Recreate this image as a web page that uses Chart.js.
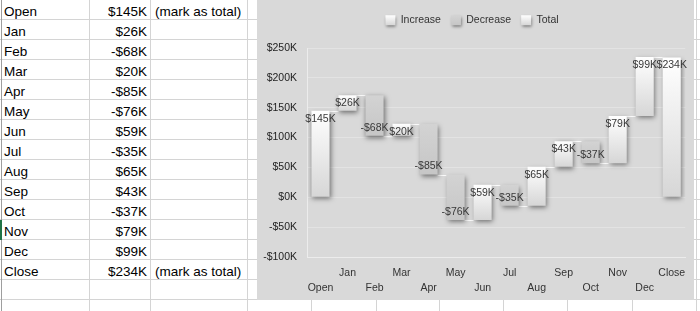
<!DOCTYPE html>
<html>
<head>
<meta charset="utf-8">
<script src="https://cdn.jsdelivr.net/npm/chart.js@4.4.0/dist/chart.umd.min.js"></script>
<style>
  html, body { margin: 0; padding: 0; width: 700px; height: 311px; overflow: hidden; background: #fff; }
  #sheet { position: absolute; left: 0; top: 0; width: 700px; height: 311px; overflow: hidden;
           font: 13.5px "Liberation Sans", Arial, sans-serif; color: #000; }
  .cell { position: absolute; height: 20px; box-sizing: border-box; border-right: 1px solid #d4d4d4;
          border-bottom: 1px solid #d4d4d4; line-height: 24px; white-space: nowrap; overflow: hidden; padding: 0 3px 0 4px; }
  .num { text-align: right; }
  #edge { position: absolute; left: 1px; top: 0; width: 1px; height: 311px; background: #9e9e9e; }
  #sel { position: absolute; left: 0; top: 220px; width: 2px; height: 20px; background: #217346; }
  #box { position: absolute; left: 257px; top: 0; width: 437px; height: 300px; background: #d9d9d9; }
</style>
</head>
<body>
<div id="sheet"></div>
<div id="edge"></div>
<div id="sel"></div>
<div id="box"><canvas id="chart"></canvas></div>
<script>
const categories = ['Open', 'Jan', 'Feb', 'Mar', 'Apr', 'May', 'Jun', 'Jul', 'Aug', 'Sep', 'Oct', 'Nov', 'Dec', 'Close'];
const amounts = [145, 26, -68, 20, -85, -76, 59, -35, 65, 43, -37, 79, 99, 234];
const isTotal = [true, false, false, false, false, false, false, false, false, false, false, false, false, true];
const totalNote = '(mark as total)';
const legendNames = ['Increase', 'Decrease', 'Total'];
const yMin = -100, yMax = 250, yStep = 50;

const fmt = v => (v < 0 ? '-$' + (-v) : '$' + v) + 'K';

// spreadsheet grid
const colEdges = [0, 90, 151, 248, 312, 377, 440, 504, 568, 633, 697, 761];
const sheet = document.getElementById('sheet');
for (let r = 0; r < 16; r++) {
    for (let c = 0; c < colEdges.length - 1; c++) {
        const d = document.createElement('div');
        d.className = 'cell';
        d.style.left = colEdges[c] + 'px';
        d.style.top = (r * 20) + 'px';
        d.style.width = (colEdges[c + 1] - colEdges[c]) + 'px';
        if (r < categories.length) {
            if (c === 0) d.textContent = categories[r];
            if (c === 1) { d.textContent = fmt(amounts[r]); d.classList.add('num'); }
            if (c === 2 && isTotal[r]) d.textContent = totalNote;
        }
        sheet.appendChild(d);
    }
}

// waterfall ranges
const starts = [], ends = [];
let run = 0;
amounts.forEach((v, i) => {
    if (isTotal[i]) { starts.push(0); ends.push(v); run = v; }
    else { starts.push(run); run += v; ends.push(run); }
});
const kind = amounts.map((v, i) => isTotal[i] ? 2 : (v >= 0 ? 0 : 1));
const rangesFor = k => categories.map((_, i) => kind[i] === k ? [starts[i], ends[i]] : null);

const fills = [['#ffffff', '#d6d6d6'], ['#d3d3d3', '#c6c6c6'], ['#ffffff', '#d6d6d6']];

function grad(k) {
    return c => {
        const ch = c.chart;
        if (!ch.chartArea || !c.raw) return fills[k][0];
        const y = ch.scales.y;
        const g = ch.ctx.createLinearGradient(0, y.getPixelForValue(Math.max(...c.raw)), 0, y.getPixelForValue(Math.min(...c.raw)));
        g.addColorStop(0, fills[k][0]);
        g.addColorStop(1, fills[k][1]);
        return g;
    };
}

function barFor(chart, i) {
    return chart.getDatasetMeta(kind[i]).data[i];
}

const waterfall = {
    id: 'waterfall',
    afterInit(chart) {
        const lg = chart.legend;
        const fit = lg.fit.bind(lg);
        lg.fit = function () { fit(); this.height = 43; };
    },
    beforeDatasetsDraw(chart) {
        const ctx = chart.ctx, y = chart.scales.y;
        ctx.save();
        ctx.strokeStyle = 'rgba(255,255,255,0.85)';
        ctx.lineWidth = 1;
        for (let i = 0; i < categories.length - 1; i++) {
            const a = barFor(chart, i), b = barFor(chart, i + 1);
            const py = Math.round(y.getPixelForValue(ends[i])) + 0.5;
            ctx.beginPath();
            ctx.moveTo(a.x + a.width / 2, py);
            ctx.lineTo(b.x - b.width / 2, py);
            ctx.stroke();
        }
        ctx.shadowColor = 'rgba(0,0,0,0.5)';
        ctx.shadowBlur = 5;
        ctx.shadowOffsetX = 1;
        ctx.shadowOffsetY = 2;
    },
    afterDatasetsDraw(chart) {
        const ctx = chart.ctx, y = chart.scales.y;
        ctx.restore();
        ctx.save();
        ctx.font = '10.5px "Liberation Sans", Arial, sans-serif';
        ctx.fillStyle = '#383838';
        ctx.textAlign = 'center';
        ctx.textBaseline = 'middle';
        categories.forEach((_, i) => {
            const el = barFor(chart, i);
            const py = y.getPixelForValue(ends[i]) + (kind[i] === 1 ? -8 : 8);
            ctx.fillText(fmt(amounts[i]), el.x, py);
        });
        ctx.restore();
    },
    afterDraw(chart) {
        const ctx = chart.ctx;
        const boxes = chart.legend.legendHitBoxes || [];
        boxes.forEach((hb, i) => {
            const top = hb.top + (hb.height - 10) / 2;
            ctx.save();
            ctx.shadowColor = 'rgba(0,0,0,0.5)';
            ctx.shadowBlur = 3;
            ctx.shadowOffsetX = 1;
            ctx.shadowOffsetY = 1.5;
            const g = ctx.createLinearGradient(0, top, 0, top + 10);
            g.addColorStop(0, fills[i][0]);
            g.addColorStop(1, fills[i][1]);
            ctx.fillStyle = g;
            ctx.fillRect(hb.left, top, 10, 10);
            ctx.restore();
        });
    }
};

const font = { family: '"Liberation Sans", Arial, sans-serif', size: 10.5 };

new Chart(document.getElementById('chart'), {
    type: 'bar',
    data: {
        labels: categories,
        datasets: legendNames.map((name, k) => ({
            label: name,
            data: rangesFor(k),
            backgroundColor: grad(k),
            borderWidth: 0,
            grouped: false,
            barPercentage: 0.67,
            categoryPercentage: 1
        }))
    },
    options: {
        responsive: true,
        maintainAspectRatio: false,
        animation: false,
        layout: { padding: { top: 5, right: 7, left: 0, bottom: 0 } },
        plugins: {
            tooltip: { enabled: false },
            legend: {
                position: 'top',
                labels: {
                    font: font,
                    color: '#333333',
                    boxWidth: 10,
                    boxHeight: 10,
                    padding: 10,
                    generateLabels: () => legendNames.map((t, i) => ({
                        text: t, fillStyle: 'rgba(0,0,0,0)', strokeStyle: 'rgba(0,0,0,0)',
                        lineWidth: 0, hidden: false, datasetIndex: i, fontColor: '#333333'
                    }))
                }
            }
        },
        scales: {
            x: {
                grid: { display: false, drawTicks: false },
                border: { display: true, color: '#ececec' },
                ticks: {
                    font: { ...font, lineHeight: 1.4 },
                    color: '#333333',
                    padding: 8.6,
                    maxRotation: 0,
                    minRotation: 0,
                    autoSkip: false,
                    callback: (v, i) => i % 2 ? [categories[i], ''] : ['', categories[i]]
                },
                afterFit: s => { s.height = 43; }
            },
            y: {
                min: yMin,
                max: yMax,
                grid: { color: '#e3e3e3', drawTicks: false },
                border: { display: true, color: '#ececec' },
                ticks: { stepSize: yStep, font: font, color: '#1e1e1e', padding: 10, callback: v => fmt(v) },
                afterFit: s => { s.width = 50; }
            }
        }
    },
    plugins: [waterfall]
});
</script>
</body>
</html>
